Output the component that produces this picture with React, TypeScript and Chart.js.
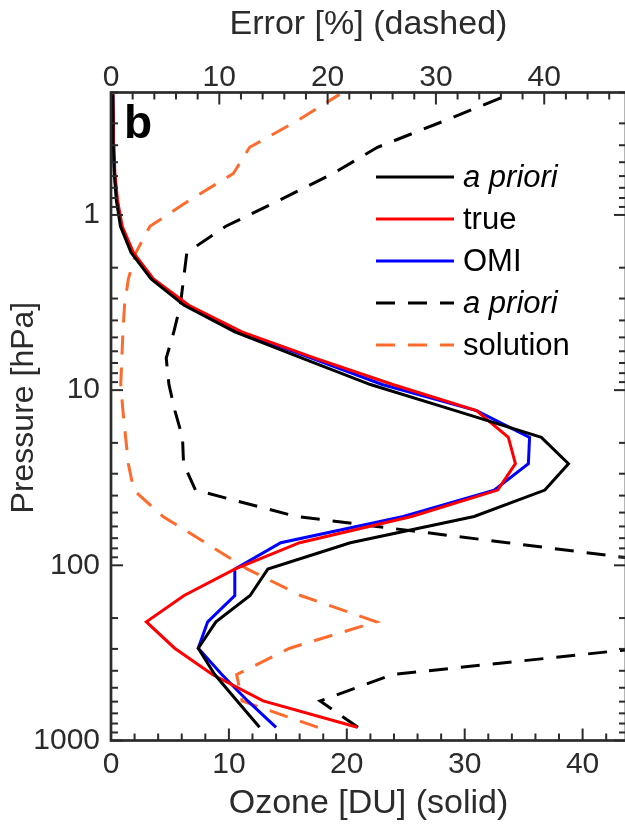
import React, { useEffect, useRef } from 'react';
import { Chart, registerables } from 'chart.js';

Chart.register(...registerables);

// OMI layer mid-pressures (hPa), bottom -> top
const pressureLevels = [
  840.9, 594.6, 420.4, 297.3, 210.2, 148.7, 105.1, 74.3, 52.6, 37.2, 26.3, 18.6, 13.1,
  9.29, 6.57, 4.65, 3.28, 2.32, 1.64, 1.16, 0.821, 0.58, 0.411, 0.29, 0.205,
];

// Ozone [DU] (solid, bottom axis)
const aprioriOzone = [
  12.6, 10.7, 8.8, 7.4, 8.9, 11.8, 13.3, 20.3, 30.8, 36.8, 38.8, 36.5, 29.2,
  22.0, 16.2, 10.5, 6.2, 3.4, 1.7, 0.8, 0.45, 0.28, 0.2, 0.17, 0.15,
];
const trueOzone = [
  20.9, 12.9, 8.6, 5.4, 3.0, 6.2, 10.5, 16.0, 25.5, 32.8, 34.3, 33.7, 31.0,
  23.9, 17.3, 11.1, 6.6, 3.6, 1.9, 0.95, 0.55, 0.33, 0.25, 0.2, 0.16,
];
const omiOzone = [
  14.0, 11.6, 9.4, 7.4, 8.2, 10.5, 10.5, 14.4, 24.8, 32.5, 35.4, 35.5, 31.0,
  23.0, 17.0, 10.9, 6.5, 3.5, 1.8, 0.87, 0.5, 0.3, 0.22, 0.18, 0.16,
];

// Error [%] (dashed, top axis)
const aprioriError = [
  22.8, 19.3, 26.0, 49, 70, 70, 56, 36.6, 17.1, 7.8, 6.7, 6.6, 5.9,
  5.35, 5.1, 5.8, 6.4, 6.7, 7.0, 10.6, 15.6, 20.5, 24.6, 30.8, 36.8,
];
const solutionError = [
  19.1, 12.1, 11.6, 16.5, 24.5, 17.5, 12.6, 8.7, 4.8, 2.1, 1.6, 1.35, 1.1,
  0.9, 1.0, 1.1, 1.25, 1.6, 2.3, 3.6, 7.3, 11.3, 12.8, 17.2, 21.1,
];

const ozoneTicks = [0, 10, 20, 30, 40];
const errorTicks = [0, 10, 20, 30, 40];
const pressureTicks = [1, 10, 100, 1000];

const legendLabels = ['a priori', 'true', 'OMI', 'a priori', 'solution'];
const legendItalic = [true, false, false, true, false];

const FONT = '"Liberation Sans", Arial, Helvetica, sans-serif';
const AXIS = '#2b2b2b';
const ORANGE = '#ff6b2d';
const DASH = [19, 13];
const LW = 3;

const W = 628;
const H = 825;

export default function App() {
  const ref = useRef<HTMLCanvasElement | null>(null);

  useEffect(() => {
    if (!ref.current) return;
    const pts = (xs: number[]) => xs.map((x, i) => ({ x, y: pressureLevels[i] }));

    const decor = {
      id: 'decor',
      afterDatasetsDraw(chart: any) {
        const { ctx, chartArea: a, scales } = chart;
        const sx = scales.x, sx2 = scales.x2, sy = scales.y;
        ctx.save();
        ctx.strokeStyle = AXIS;
        ctx.lineWidth = 2;
        const seg = (x1: number, y1: number, x2: number, y2: number) => {
          ctx.beginPath();
          ctx.moveTo(x1, y1);
          ctx.lineTo(x2, y2);
          ctx.stroke();
        };
        for (let v = 0; v <= sx.max + 1e-9; v += 2) {
          const px = sx.getPixelForValue(v);
          seg(px, a.bottom, px, a.bottom - (v % 10 === 0 ? 12 : 7));
        }
        for (let v = 0; v <= sx2.max + 1e-9; v += 2) {
          const px = sx2.getPixelForValue(v);
          seg(px, a.top, px, a.top + (v % 10 === 0 ? 12 : 7));
        }
        for (let d = -1; d <= 3; d++) {
          for (let k = 1; k <= 9; k++) {
            const p = k * Math.pow(10, d);
            if (p < 0.2 - 1e-9 || p > 1000 + 1e-9) continue;
            const py = sy.getPixelForValue(p);
            const L = k === 1 ? 12 : 7;
            seg(a.left, py, a.left + L, py);
            seg(a.right, py, a.right - L, py);
          }
        }
        ctx.lineWidth = 2.7;
        ctx.strokeRect(a.left, a.top, a.right - a.left, a.bottom - a.top);
        ctx.restore();
      },
      afterDraw(chart: any) {
        const { ctx } = chart;
        ctx.save();
        // panel letter
        ctx.fillStyle = '#000';
        ctx.font = `bold 46px ${FONT}`;
        ctx.textBaseline = 'alphabetic';
        ctx.textAlign = 'left';
        ctx.fillText('b', 124, 138);
        // legend
        const ds = chart.data.datasets;
        for (let k = 0; k < legendLabels.length; k++) {
          const y = 177 + 42 * k;
          const d = ds[k];
          ctx.strokeStyle = d.borderColor;
          ctx.lineWidth = LW;
          ctx.setLineDash(d.borderDash || []);
          ctx.beginPath();
          ctx.moveTo(376, y);
          ctx.lineTo(454, y);
          ctx.stroke();
          ctx.setLineDash([]);
          ctx.fillStyle = '#000';
          ctx.font = `${legendItalic[k] ? 'italic ' : ''}31px ${FONT}`;
          ctx.textBaseline = 'middle';
          ctx.fillText(legendLabels[k], 463, y + 1);
        }
        ctx.restore();
      },
    };

    const lineDs = (label: string, data: number[], color: string, axis: string, dashed: boolean) => ({
      label,
      data: pts(data),
      xAxisID: axis,
      yAxisID: 'y',
      borderColor: color,
      backgroundColor: color,
      borderWidth: LW,
      borderDash: dashed ? DASH : [],
      pointRadius: 0,
      pointHoverRadius: 0,
      fill: false,
      tension: 0,
      showLine: true,
    });

    const chart = new Chart(ref.current, {
      type: 'scatter',
      data: {
        datasets: [
          lineDs('a priori', aprioriOzone, '#000000', 'x', false),
          lineDs('true', trueOzone, '#ff0000', 'x', false),
          lineDs('OMI', omiOzone, '#0000ff', 'x', false),
          lineDs('a priori error', aprioriError, '#000000', 'x2', true),
          lineDs('solution error', solutionError, ORANGE, 'x2', true),
        ],
      },
      options: {
        animation: false,
        responsive: false,
        maintainAspectRatio: false,
        devicePixelRatio: 1,
        events: [],
        layout: { padding: { left: 0, right: 2, top: 0, bottom: 0 } },
        plugins: { legend: { display: false }, tooltip: { enabled: false } },
        scales: {
          x: {
            type: 'linear',
            position: 'bottom',
            min: 0,
            max: 43.68,
            afterBuildTicks: (s: any) => {
              s.ticks = ozoneTicks.map((v) => ({ value: v }));
            },
            afterFit: (s: any) => {
              s.height = 84.5;
            },
            grid: { display: false, drawTicks: false },
            border: { display: false },
            ticks: {
              autoSkip: false,
              maxRotation: 0,
              padding: 6,
              color: AXIS,
              font: { family: FONT, size: 30 },
              callback: (v: any) => String(v),
            },
            title: {
              display: true,
              text: 'Ozone [DU] (solid)',
              color: AXIS,
              font: { family: FONT, size: 34 },
              padding: { top: 0, bottom: 1 },
            },
          },
          x2: {
            type: 'linear',
            position: 'top',
            min: 0,
            max: 47.55,
            afterBuildTicks: (s: any) => {
              s.ticks = errorTicks.map((v) => ({ value: v }));
            },
            afterFit: (s: any) => {
              s.height = 92.5;
            },
            grid: { display: false, drawTicks: false },
            border: { display: false },
            ticks: {
              autoSkip: false,
              maxRotation: 0,
              padding: -3,
              color: AXIS,
              font: { family: FONT, size: 30 },
              callback: (v: any) => String(v),
            },
            title: {
              display: true,
              text: 'Error [%] (dashed)',
              color: AXIS,
              font: { family: FONT, size: 34 },
              padding: { top: 4, bottom: 0 },
            },
          },
          y: {
            type: 'logarithmic',
            position: 'left',
            reverse: true,
            min: 0.2,
            max: 1000,
            afterBuildTicks: (s: any) => {
              s.ticks = pressureTicks.map((v) => ({ value: v }));
            },
            afterFit: (s: any) => {
              s.width = 111;
            },
            grid: { display: false, drawTicks: false },
            border: { display: false },
            ticks: {
              autoSkip: false,
              padding: 11,
              color: AXIS,
              font: { family: FONT, size: 30 },
              callback: (v: any) => String(v),
            },
            title: {
              display: true,
              text: '  Pressure [hPa]',
              color: AXIS,
              font: { family: FONT, size: 32 },
              padding: { top: 5, bottom: 0 },
            },
          },
        },
      },
      plugins: [decor],
    } as any);

    return () => chart.destroy();
  }, []);

  return (
    <div
      style={{
        position: 'fixed',
        left: 0,
        top: 0,
        width: 625,
        height: 825,
        overflow: 'hidden',
        background: '#ffffff',
      }}
    >
      <canvas ref={ref} width={W} height={H} style={{ display: 'block', width: W, height: H }} />
    </div>
  );
}
